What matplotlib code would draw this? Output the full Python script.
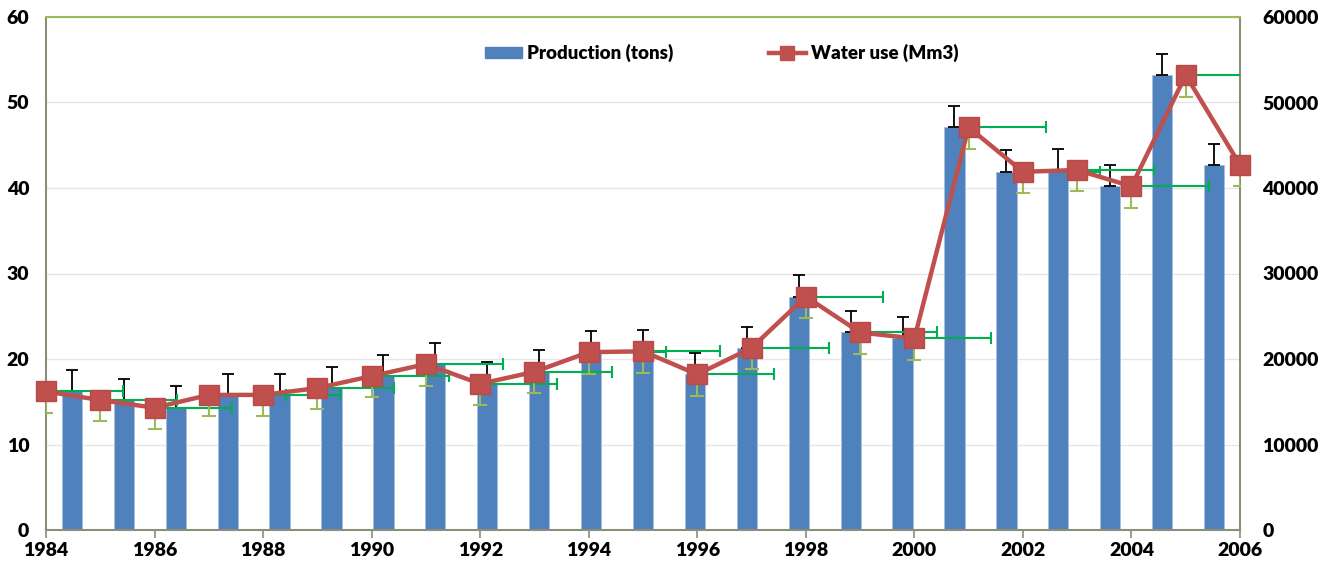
import numpy as np
import matplotlib
matplotlib.use("Agg")
import matplotlib.pyplot as plt
from matplotlib.lines import Line2D
from matplotlib.patches import Patch

# ---- data ----
years = [1984, 1985, 1986, 1987, 1988, 1989, 1990, 1991, 1992, 1993, 1994, 1995,
         1996, 1997, 1998, 1999, 2000, 2001, 2002, 2003, 2004, 2005, 2006]
production = [16.2, 15.2, 14.3, 15.8, 15.8, 16.6, 18.0, 19.4, 17.1, 18.5, 20.8, 20.9,
              18.2, 21.3, 27.3, 23.1, 22.4, 47.1, 41.9, 42.1, 40.2, 53.2, 42.7]
water_use = [16200, 15200, 14300, 15800, 15800, 16600, 18000, 19400, 17100, 18500, 20800, 20900,
             18200, 21300, 27300, 23100, 22400, 47100, 41900, 42100, 40200, 53200, 42700]
prod_err = 2.5          # upper error on bars
water_err = 2500        # lower error on line
year_err = 1.42         # positive x error on line
x_ticks = [1984, 1986, 1988, 1990, 1992, 1994, 1996, 1998, 2000, 2002, 2004, 2006]
left_ticks = [0, 10, 20, 30, 40, 50, 60]
right_ticks = [0, 10000, 20000, 30000, 40000, 50000, 60000]

BLUE = "#4F81BD"
RED = "#C0504D"
OLIVE = "#9BBB59"
GREEN = "#00B050"
SPINE = "#8B8F78"
FONT = "Lato"
FAM = [FONT, 'DejaVu Sans']

plt.rcParams['font.family'] = FAM
plt.rcParams['font.weight'] = 'bold'

fig = plt.figure(figsize=(13.23, 5.66), dpi=100)
pos = [46/1323, 1 - 530/566, (1240-46)/1323, (530-17)/566]

# primary: category axis with bars
ax = fig.add_axes(pos)
n = len(production)
cat = np.arange(n) + 0.5
ax.bar(cat, production, width=0.39, color=BLUE, edgecolor="#A8C0E0", linewidth=0.6, zorder=2)
ax.errorbar(cat, production, yerr=[np.zeros(n), np.full(n, prod_err)], fmt='none',
            ecolor='black', elinewidth=1.3, capsize=4, capthick=1.3, zorder=3)
ax.set_xlim(0, n)
ax.set_ylim(0, 60)
ax.set_yticks(left_ticks)
ax.yaxis.grid(True, color="#E6E6E6", linewidth=1)
ax.set_axisbelow(True)
ax.tick_params(axis='y', length=0, pad=12)
ax.set_yticklabels([str(t) for t in left_ticks], fontweight='heavy', fontsize=14)
ax.set_xticks([])
for s in ['left', 'bottom', 'right']:
    ax.spines[s].set_color(SPINE)
    ax.spines[s].set_linewidth(1.5)
ax.spines['top'].set_color(OLIVE)
ax.spines['top'].set_linewidth(1.5)

# secondary: value axis for the line
ax2 = fig.add_axes(pos, facecolor='none')
ax2.set_xlim(1984, 2006)
ax2.set_ylim(0, 60000)
ax2.errorbar(years, water_use, xerr=[np.zeros(n), np.full(n, year_err)], fmt='none',
             ecolor=GREEN, elinewidth=1.5, capsize=4, capthick=1.5, zorder=3)
ax2.errorbar(years, water_use, yerr=[np.full(n, water_err), np.zeros(n)], fmt='none',
             ecolor=OLIVE, elinewidth=1.5, capsize=5, capthick=1.5, zorder=3)
ax2.plot(years, water_use, color=RED, linewidth=3.2, marker='s', markersize=14,
         markerfacecolor=RED, markeredgecolor="#B9494A", zorder=4, clip_on=False)
ax2.yaxis.tick_right()
ax2.set_yticks(right_ticks)
ax2.set_yticklabels([str(t) for t in right_ticks], fontweight='heavy', fontsize=14)
ax2.tick_params(axis='y', length=0, pad=16)
ax2.set_xticks(x_ticks)
ax2.set_xticklabels([str(t) for t in x_ticks], fontweight='heavy', fontsize=14)
ax2.tick_params(axis='x', direction='out', length=6, width=1.2, color=SPINE, pad=3)
for s in ax2.spines.values():
    s.set_visible(False)

handles = [Patch(facecolor=BLUE, edgecolor=BLUE),
           Line2D([0], [0], color=RED, linewidth=3.2, marker='s', markersize=10)]
leg = ax2.legend(handles, ["Production (tons)", "Water use (Mm3)"], loc='center',
                 bbox_to_anchor=(0.5657, 0.93), ncol=2, frameon=False,
                 prop={'family': FAM, 'weight': 'heavy', 'size': 13.5},
                 columnspacing=5.1, handlelength=2.0, handletextpad=0.25,
                 handleheight=0.55)

fig.savefig("out.png", dpi=100)
